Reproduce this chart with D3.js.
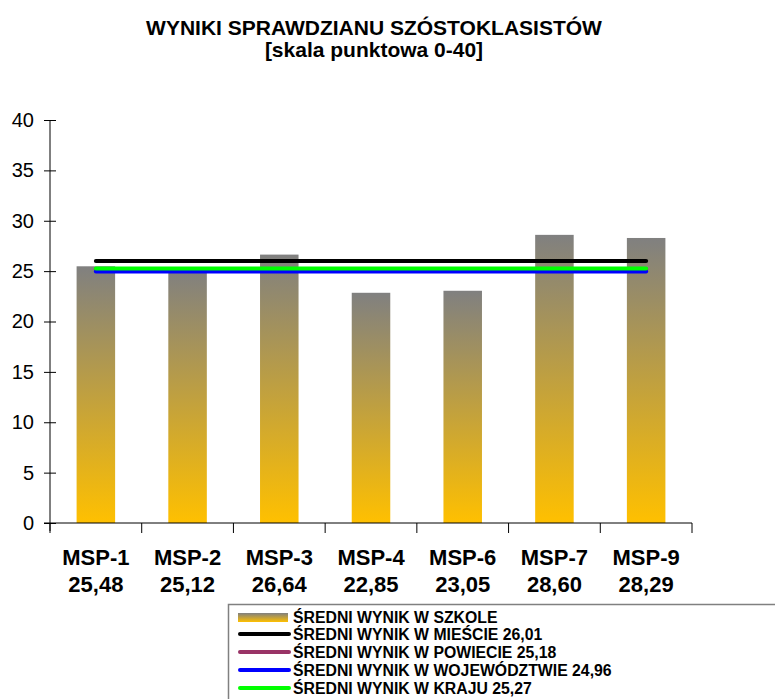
<!DOCTYPE html>
<html><head><meta charset="utf-8">
<script src="https://cdn.jsdelivr.net/npm/d3@7"></script>
<style>body{margin:0;background:#fff}svg{display:block}</style>
</head><body>
<script>
const categories = ["MSP-1","MSP-2","MSP-3","MSP-4","MSP-6","MSP-7","MSP-9"];
const valueLabels = ["25,48","25,12","26,64","22,85","23,05","28,60","28,29"];
const schoolScores = [25.48,25.12,26.64,22.85,23.05,28.60,28.29];
const refNames = ["ŚREDNI WYNIK W MIEŚCIE 26,01","ŚREDNI WYNIK W POWIECIE 25,18","ŚREDNI WYNIK W WOJEWÓDZTWIE 24,96","ŚREDNI WYNIK W KRAJU 25,27"];
const refValues = [26.01,25.18,24.96,25.27];
const refColors = ["#000000","#993366","#0000FF","#00FF00"];
const yTicks = [0,5,10,15,20,25,30,35,40];
const barLegend = "ŚREDNI WYNIK W SZKOLE";

const W=775,H=699;
const FONT="Arial, 'Liberation Sans', sans-serif";
const svg=d3.select("body").append("svg").attr("width",W).attr("height",H);
const defs=svg.append("defs");
const g=defs.append("linearGradient").attr("id","barGrad").attr("x1",0).attr("y1",0).attr("x2",0).attr("y2",1);
g.append("stop").attr("offset","0%").attr("stop-color","#808080");
g.append("stop").attr("offset","100%").attr("stop-color","#FFC000");

const x=d3.scaleBand().domain(categories).range([50,692]).padding(0);
const y=d3.scaleLinear().domain([0,40]).range([523,120]);

// title
svg.append("text").attr("x",374).attr("y",35).attr("text-anchor","middle")
  .attr("font-family",FONT).attr("font-weight","bold").attr("font-size",21).text("WYNIKI SPRAWDZIANU SZÓSTOKLASISTÓW");
svg.append("text").attr("x",374).attr("y",57).attr("text-anchor","middle")
  .attr("font-family",FONT).attr("font-weight","bold").attr("font-size",21).text("[skala punktowa 0-40]");

// bars
const bw=x.bandwidth()*0.42;
svg.append("g").selectAll("rect").data(schoolScores).join("rect")
  .attr("x",(d,i)=>x(categories[i])+x.bandwidth()/2-bw/2)
  .attr("width",bw)
  .attr("y",d=>y(d)).attr("height",d=>y(0)-y(d))
  .attr("fill","url(#barGrad)");

// y axis
const ya=svg.append("g").attr("transform","translate(50,0)")
  .call(d3.axisLeft(y).tickValues(yTicks).tickSize(6).tickPadding(10).tickSizeOuter(0));
ya.select(".domain").attr("d","M0,"+(y(40))+"V"+(y(0)+8)).attr("stroke","#000");
ya.selectAll(".tick line").attr("x1",-6).attr("x2",6);
ya.selectAll("text").attr("font-family",FONT).attr("font-size",20).attr("fill","#000");

// x axis
const xa=svg.append("g").attr("transform","translate(0,"+y(0)+")");
xa.append("line").attr("x1",44).attr("x2",692).attr("stroke","#000");
const edges=categories.map(c=>x(c)).concat([x.range()[1]]);
xa.selectAll("line.tk").data(edges).join("line").attr("class","tk")
  .attr("x1",d=>d).attr("x2",d=>d).attr("y1",0).attr("y2",10).attr("stroke","#000");
xa.selectAll("text.cat").data(categories).join("text").attr("class","cat")
  .attr("x",d=>x(d)+x.bandwidth()/2).attr("y",42).attr("text-anchor","middle")
  .attr("font-family",FONT).attr("font-weight","bold").attr("font-size",22).text(d=>d);
xa.selectAll("text.val").data(valueLabels).join("text").attr("class","val")
  .attr("x",(d,i)=>x(categories[i])+x.bandwidth()/2).attr("y",69).attr("text-anchor","middle")
  .attr("font-family",FONT).attr("font-weight","bold").attr("font-size",22).text(d=>d);

// reference lines
const cx=c=>x(c)+x.bandwidth()/2;
refValues.forEach((v,i)=>{
  svg.append("line").attr("x1",cx(categories[0])).attr("x2",cx(categories[categories.length-1]))
    .attr("y1",y(v)).attr("y2",y(v))
    .attr("stroke",refColors[i]).attr("stroke-width",4).attr("stroke-linecap","round");
});

// legend
svg.append("rect").attr("x",228.5).attr("y",604.5).attr("width",600).attr("height",120)
  .attr("fill","#fff").attr("stroke","#808080").attr("stroke-width",1.5);
const ly=[617,634,652,670,688];
svg.append("rect").attr("x",238).attr("y",ly[0]-4).attr("width",50).attr("height",9).attr("fill","url(#barGrad)");
const items=[barLegend].concat(refNames);
svg.selectAll("text.leg").data(items).join("text").attr("class","leg")
  .attr("x",293).attr("y",(d,i)=>ly[i]+6)
  .attr("font-family",FONT).attr("font-weight","bold").attr("font-size",15.8).text(d=>d);
refNames.forEach((n,i)=>{
  svg.append("line").attr("x1",240).attr("x2",289).attr("y1",ly[i+1]).attr("y2",ly[i+1])
    .attr("stroke",refColors[i]).attr("stroke-width",4).attr("stroke-linecap","round");
});
</script>
</body></html>
